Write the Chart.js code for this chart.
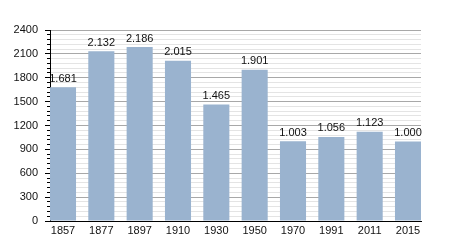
<!DOCTYPE html>
<html>
<head>
<meta charset="utf-8">
<script src="https://cdn.jsdelivr.net/npm/chart.js@4/dist/chart.umd.min.js"></script>
<style>
  html, body { margin: 0; padding: 0; background: #fff; }
</style>
</head>
<body>
<canvas id="popChart" width="450" height="250"></canvas>
<script>
// Population by census year
const years = ["1857", "1877", "1897", "1910", "1930", "1950", "1970", "1991", "2011", "2015"];
const population = [1681, 2132, 2186, 2015, 1465, 1901, 1003, 1056, 1123, 1000];
const yMax = 2400;
const yMajorStep = 300;
const yMinorStep = 60;

// German style thousands separator: 1681 -> "1.681"
function formatDe(v) {
  return String(v).replace(/\B(?=(\d{3})+(?!\d))/g, ".");
}

function isMajor(c) {
  return c.tick && c.tick.value % yMajorStep === 0;
}

// Draw the value above each bar
const barLabels = {
  id: "barLabels",
  afterDatasetsDraw(chart) {
    const ctx = chart.ctx;
    const meta = chart.getDatasetMeta(0);
    ctx.save();
    ctx.font = "11px 'Liberation Sans', Arial, sans-serif";
    ctx.fillStyle = "#111";
    ctx.textAlign = "center";
    ctx.textBaseline = "bottom";
    meta.data.forEach((bar, i) => {
      ctx.fillText(formatDe(population[i]), bar.x, bar.y - 3);
    });
    ctx.restore();
  },
};

const ctx = document.getElementById("popChart").getContext("2d");
const popChart = new Chart(ctx, {
  type: "bar",
  data: {
    datasets: [
      {
        data: population.map((v, i) => ({ x: i, y: v })),
        backgroundColor: "#9ab3cf",
        borderWidth: 0,
        categoryPercentage: 1,
        barPercentage: 0.68,
      },
    ],
  },
  options: {
    responsive: false,
    animation: false,
    layout: {
      padding: { top: 30, right: 29, bottom: 0, left: 0 },
    },
    plugins: {
      legend: { display: false },
      tooltip: { enabled: false },
    },
    scales: {
      x: {
        type: "linear",
        offset: false,
        min: -0.339,
        max: 9.339,
        afterFit: (scale) => { scale.height = 29; },
        grid: { display: false, drawTicks: false },
        border: { display: true, color: "#000", width: 1 },
        ticks: {
          stepSize: 1,
          includeBounds: false,
          autoSkip: false,
          maxRotation: 0,
          padding: 3,
          color: "#111",
          font: { family: "'Liberation Sans', Arial, sans-serif", size: 11 },
          callback: (value) => (Number.isInteger(value) ? years[value] : ""),
        },
      },
      y: {
        min: 0,
        max: yMax,
        afterFit: (scale) => { scale.width = 50; },
        border: { display: true, color: "#000", width: 1 },
        grid: {
          color: (c) => (isMajor(c) ? "#a8a8a8" : "#e4e4e4"),
          tickColor: "#000",
          tickLength: 5,
          // minor ticks only draw the 3px next to the axis
          tickBorderDash: (c) => (isMajor(c) ? [] : [0, 2, 3, 100]),
        },
        ticks: {
          stepSize: yMinorStep,
          autoSkip: false,
          padding: 7,
          color: "#111",
          font: { family: "'Liberation Sans', Arial, sans-serif", size: 11 },
          callback: (value) => (value % yMajorStep === 0 ? String(value) : ""),
        },
      },
    },
  },
  plugins: [barLabels],
});
</script>
</body>
</html>
